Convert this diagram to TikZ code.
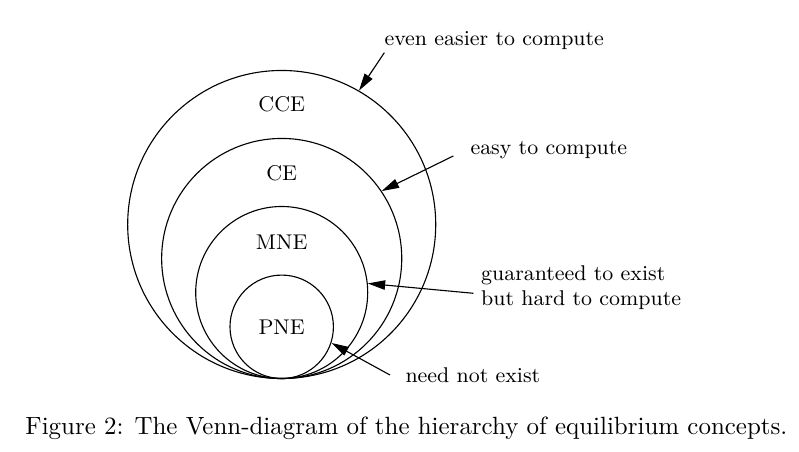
\documentclass[tikz,border=0pt]{standalone}
\usetikzlibrary{arrows.meta}
\begin{document}
\begin{tikzpicture}[x=0.4032pt,y=-0.4032pt,
  setc/.style={circle,draw,line width=0.45pt,inner sep=0pt},
  lab/.style={font=\fontsize{8.6}{10.4}\selectfont,inner sep=0pt,anchor=base},
  note/.style={font=\fontsize{8.6}{10.4}\selectfont,inner sep=0pt,anchor=base west,align=left},
  pointer/.style={-{Triangle[length=7pt,width=3.8pt]},line width=0.45pt}]
\useasboundingbox (0,0) rectangle (799,452);
% circles
\node[setc,minimum size=124.2pt] (cce) at (281.7,224.5) {};
\node[setc,minimum size=96.8pt] (ce) at (281.7,258.5) {};
\node[setc,minimum size=69.35pt] (mne) at (281.7,292.5) {};
\node[setc,minimum size=41.7pt] (pne) at (281.7,326.8) {};
% set labels
\node[lab] (tcce) at (281.7,112) {CCE};
\node[lab] (tce) at (281.7,181) {CE};
\node[lab] (tmne) at (281.7,249.3) {MNE};
\node[lab] (tpne) at (281.7,335) {PNE};
% annotations
\node[note] (n1) at (384,46) {even easier to compute};
\node[note] (n2) at (470,155) {easy to compute};
\node[note] (n3) at (480.7,306) {guaranteed to exist\\but hard to compute};
\node[note] (n4) at (405,382.5) {need not exist};
% arrow starts
\coordinate (s1) at (384.3,52.7);
\coordinate (s2) at (453.3,156);
\coordinate (s3) at (473.3,293.3);
\coordinate (s4) at (390,375);
\draw[pointer] (s1) -- (cce.60);
\draw[pointer] (s2) -- (ce.34);
\draw[pointer] (s3) -- (mne.6);
\draw[pointer] (s4) -- (pne.-18);
% caption
\node[anchor=base west,inner sep=0pt,font=\fontsize{10.05}{12}\selectfont] (cap) at (25,434.5) {Figure 2: The Venn-diagram of the hierarchy of equilibrium concepts.};
\end{tikzpicture}
\end{document}
